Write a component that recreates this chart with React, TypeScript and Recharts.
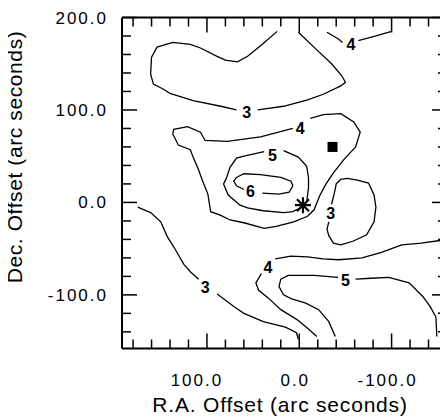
import React from "react";
import { ComposedChart, Line, Scatter, XAxis, YAxis } from "recharts";

// contour levels traced as [ra, dec] pairs (arc seconds)
const c3North = [
  [24, 185], [40, 171], [56, 158], [67, 152], [80, 154], [89, 158], [107, 167],
  [118, 171], [137, 173], [154, 168], [160, 157], [161, 139], [158, 128],
  [148, 123], [140, 118], [115, 110], [85, 104], [68, 100],
];
const c3NorthB = [
  [45, 100], [17, 104], [-9, 111], [-26, 117], [-45, 126], [-50, 130],
  [-46, 137], [-35, 150], [-19, 165], [1, 184],
];
const c4TopA = [[-30, 184], [-42, 177], [-47, 173]];
const c4TopB = [[-64, 175], [-83, 180], [-100, 185]];
const c4Loop = [
  [-12, 91], [-26, 95], [-45, 96], [-59, 87], [-66, 76], [-61, 60], [-48, 46],
  [-37, 32], [-29, 20], [-22, 7], [-16, -8], [-9, -15], [6, -21], [25, -26],
  [38, -28], [60, -22], [75, -19], [85, -14], [96, -10], [99, 9], [105, 24],
  [109, 35], [115, 49], [118, 57], [131, 62], [137, 74], [136, 79], [121, 82],
  [107, 76], [102, 67], [78, 66], [42, 71], [7, 80],
];
const c5Loop = [
  [17, 56], [1, 49], [-8, 39], [-10, 27], [-10, 16], [-8, 0], [-1, -6], [7, -10],
  [17, -11], [39, -9], [56, -6], [64, -3], [77, 8], [82, 20], [79, 26], [75, 38],
  [68, 48], [60, 50], [38, 55],
];
const c6Loop = [
  [40, 10], [22, 9], [11, 11], [7, 18], [9, 23], [20, 27], [42, 30], [60, 31],
  [68, 27], [71, 23], [68, 18], [60, 14],
];
const c3East = [
  [-35, -2], [-38, 10], [-40, 20], [-45, 25], [-52, 26], [-63, 24], [-75, 21],
  [-81, 8], [-83, -5], [-81, -21], [-73, -35], [-58, -42], [-45, -46],
  [-37, -44], [-32, -36], [-30, -29], [-32, -21],
];
const c3SouthA = [
  [175, -5], [161, -11], [150, -21], [143, -37], [136, -48], [125, -67],
  [118, -75], [109, -83],
];
const c3SouthB = [
  [89, -99], [69, -114], [60, -120], [39, -129], [15, -135], [3, -141], [1, -148],
];
const c4SouthA = [
  [-154, -41], [-132, -44], [-111, -46], [-89, -54], [-68, -60], [-43, -62],
  [-26, -61], [-9, -59], [9, -58], [26, -61],
];
const c4SouthB = [
  [41, -77], [47, -87], [44, -95], [34, -103], [20, -116], [2, -127], [-9, -136],
  [-19, -145],
];
const c5SouthA = [
  [-39, -145], [-32, -129], [-21, -116], [-7, -109], [9, -104], [17, -100],
  [22, -91], [20, -83], [12, -79], [-16, -79], [-42, -81],
];
const c5SouthB = [
  [-61, -83], [-78, -82], [-97, -81], [-119, -87], [-134, -102], [-142, -113],
  [-148, -124], [-149, -145],
];

const levelLabels = [
  { ra: 57, dec: 98, text: "3" },
  { ra: -56, dec: 171, text: "4" },
  { ra: -1, dec: 81, text: "4" },
  { ra: 29, dec: 51, text: "5" },
  { ra: 53, dec: 12, text: "6" },
  { ra: -34, dec: -11, text: "3" },
  { ra: 102, dec: -91, text: "3" },
  { ra: 34, dec: -70, text: "4" },
  { ra: -50, dec: -84, text: "5" },
];

const squareMark = [{ ra: -36, dec: 60 }];
const starMark = [{ ra: -4, dec: -3 }];

const xTicks = [-160, -140, -120, -100, -80, -60, -40, -20, 0, 20, 40, 60, 80, 100, 120, 140, 160, 180];
const yTicks = [-140, -120, -100, -80, -60, -40, -20, 0, 20, 40, 60, 80, 100, 120, 140, 160, 180, 200];
const labelled = [-100, 0, 100];

const segments = [
  c3North, c3NorthB, c4TopA, c4TopB, c4Loop, c5Loop, c6Loop, c3East,
  c3SouthA, c3SouthB, c4SouthA, c4SouthB, c5SouthA, c5SouthB,
];

const toPts = (arr: number[][]) => arr.map(([ra, dec]) => ({ ra, dec }));

const font = "'Liberation Sans', Arial, Helvetica, sans-serif";
const tickLen = (v: number) => (v % 100 === 0 ? 15 : 9);
// the printed labels sit a little left of their ticks
const labelShift = (v: number) => (v === 100 ? -10 : -4);

const BottomTick = (p: any) => {
  const v = p.payload.value;
  return (
    <g>
      <line x1={p.x} y1={p.y} x2={p.x} y2={p.y - tickLen(v)} stroke="#000" strokeWidth={1.5} />
      {labelled.includes(v) && (
        <text x={p.x + labelShift(v)} y={p.y + 37} textAnchor="middle" fontFamily={font} fontWeight="normal"
          fontSize={17} letterSpacing={2} stroke="none" fill="#000">
          {v.toFixed(1)}
        </text>
      )}
    </g>
  );
};

const TopTick = (p: any) => (
  <line x1={p.x} y1={p.y} x2={p.x} y2={p.y + tickLen(p.payload.value)} stroke="#000" strokeWidth={1.5} />
);

const LeftTick = (p: any) => {
  const v = p.payload.value;
  return (
    <g>
      <line x1={p.x} y1={p.y} x2={p.x + tickLen(v)} y2={p.y} stroke="#000" strokeWidth={1.5} />
      {(labelled.includes(v) || v === 200) && (
        <text x={p.x - 14} y={p.y + 6} textAnchor="end" fontFamily={font} fontWeight="normal"
          fontSize={17} letterSpacing={2} stroke="none" fill="#000">
          {v.toFixed(1)}
        </text>
      )}
    </g>
  );
};

const RightTick = (p: any) => (
  <line x1={p.x} y1={p.y} x2={p.x - tickLen(p.payload.value)} y2={p.y} stroke="#000" strokeWidth={1.5} />
);

const LevelText = (p: any) => (
  <text x={p.cx} y={p.cy + 6} textAnchor="middle" fontFamily={font} fontWeight="bold" fontSize={16} fill="#000">
    {p.payload.text}
  </text>
);

const Square = (p: any) => <rect x={p.cx - 5} y={p.cy - 5} width={10} height={10} fill="#000" />;

const Star = (p: any) => (
  <g stroke="#000" strokeWidth={2.2}>
    <line x1={p.cx} y1={p.cy - 8} x2={p.cx} y2={p.cy + 8} />
    <line x1={p.cx - 8} y1={p.cy} x2={p.cx + 8} y2={p.cy} />
    <line x1={p.cx - 6} y1={p.cy - 6} x2={p.cx + 6} y2={p.cy + 6} />
    <line x1={p.cx - 6} y1={p.cy + 6} x2={p.cx + 6} y2={p.cy - 6} />
  </g>
);

const axisLine = { stroke: "#000", strokeWidth: 2 };

export default function App() {
  return (
    <div style={{ position: "relative", width: 440, height: 411, fontFamily: font }}>
      <ComposedChart width={440} height={411} margin={{ top: 8.5, right: 0, bottom: 69.5, left: 113 }}>
        <XAxis xAxisId="b" orientation="bottom" type="number" dataKey="ra" domain={[-160, 192]} reversed
          allowDataOverflow ticks={xTicks} interval={0} height={1} tickSize={0} tickMargin={0}
          tickLine={false} axisLine={axisLine} tick={<BottomTick />} />
        <XAxis xAxisId="t" orientation="top" type="number" dataKey="ra" domain={[-160, 192]} reversed
          allowDataOverflow ticks={xTicks} interval={0} height={1} tickSize={0} tickMargin={0}
          tickLine={false} axisLine={axisLine} tick={<TopTick />} />
        <YAxis yAxisId="l" orientation="left" type="number" dataKey="dec" domain={[-158, 200]}
          allowDataOverflow ticks={yTicks} interval={0} width={1} tickSize={0} tickMargin={0}
          tickLine={false} axisLine={axisLine} tick={<LeftTick />} />
        <YAxis yAxisId="r" orientation="right" type="number" dataKey="dec" domain={[-158, 200]}
          allowDataOverflow ticks={yTicks} interval={0} width={1} tickSize={0} tickMargin={0}
          tickLine={false} axisLine={axisLine} tick={<RightTick />} />
        {segments.map((s, i) => (
          <Line key={i} xAxisId="b" yAxisId="l" data={toPts(s)} dataKey="dec" type="linear"
            stroke="#000" strokeWidth={1.3} dot={false} activeDot={false} isAnimationActive={false} />
        ))}
        <Scatter xAxisId="b" yAxisId="l" data={levelLabels} dataKey="dec" shape={<LevelText />} isAnimationActive={false} />
        <Scatter xAxisId="b" yAxisId="l" data={squareMark} dataKey="dec" shape={<Square />} isAnimationActive={false} />
        <Scatter xAxisId="b" yAxisId="l" data={starMark} dataKey="dec" shape={<Star />} isAnimationActive={false} />
      </ComposedChart>
      <div style={{ position: "absolute", left: 272, top: 397, transform: "translate(-50%, -50%)", whiteSpace: "nowrap", fontSize: 21, letterSpacing: 0.8, color: "#000" }}>
        R.A. Offset (arc seconds)
      </div>
      <div style={{ position: "absolute", left: 7, top: 149, transform: "translate(-50%, -50%) rotate(-90deg)", whiteSpace: "nowrap", fontSize: 21, letterSpacing: 0.6, color: "#000" }}>
        Dec. Offset (arc seconds)
      </div>
    </div>
  );
}
